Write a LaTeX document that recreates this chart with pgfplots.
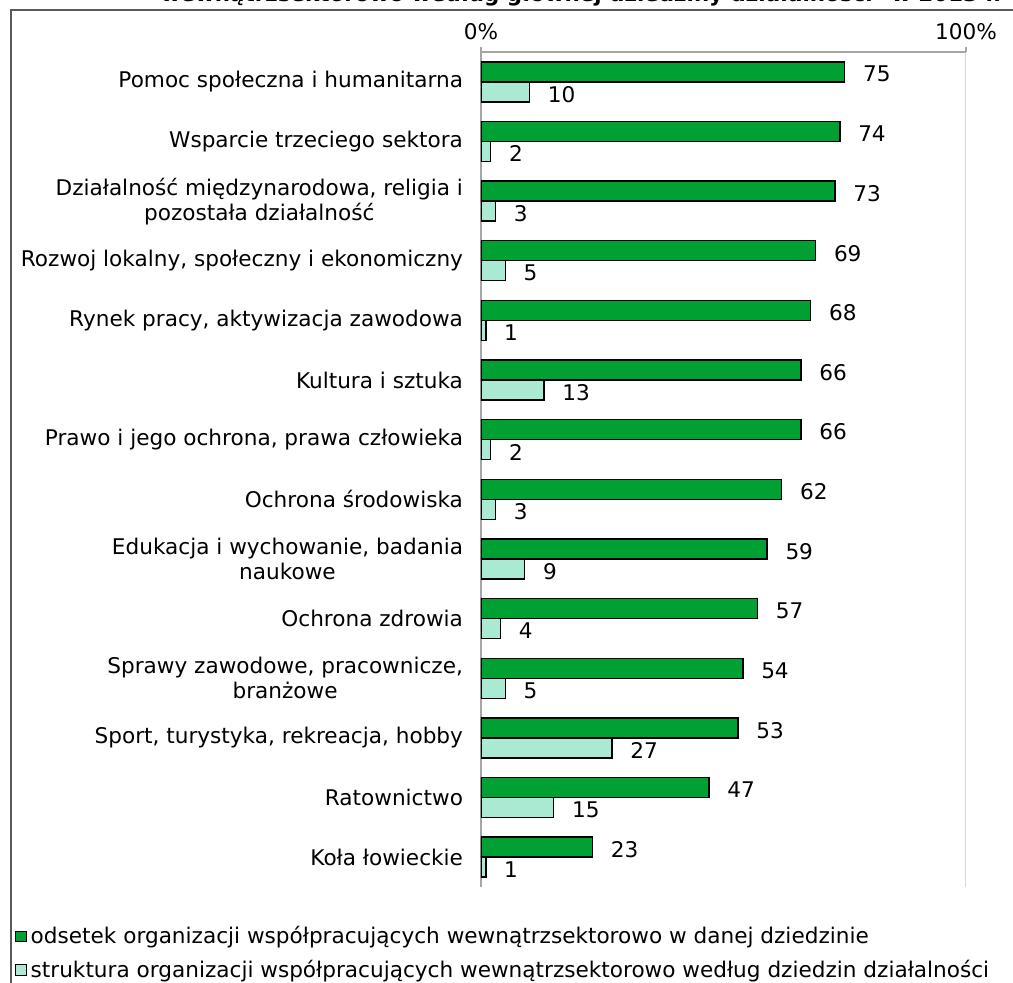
\documentclass[border=0pt]{standalone}
\usepackage{pgfplots}
\pgfplotsset{compat=1.18}
\usepackage{pgfplotstable}
\usepackage{fontspec}
\setmainfont{DejaVu Sans}

\definecolor{ciemny}{HTML}{00A033}
\definecolor{jasny}{HTML}{AAE9D2}
\definecolor{ramka}{HTML}{595959}
\definecolor{osie}{HTML}{A6A6A6}
\definecolor{siatka}{HTML}{D9D9D9}

% y: 13 = top category, 0 = bottom
\pgfplotstableread{
y  odsetek struktura
13 75 10
12 74 2
11 73 3
10 69 5
9  68 1
8  66 13
7  66 2
6  62 3
5  59 9
4  57 4
3  54 5
2  53 27
1  47 15
0  23 1
}\dane

\begin{document}
\begin{tikzpicture}
    \useasboundingbox (-240.5pt,26pt) rectangle (266pt,-465pt);
    \clip (-240.5pt,26pt) rectangle (266pt,-465pt);
    \draw[ramka, line width=1pt] (-235pt,21pt) rectangle (300pt,-500pt);
    % title is cut off at the top edge, as in the original
    \node[anchor=base, font=\bfseries\fontsize{10.7}{12}\selectfont] at (50pt,25.2pt)
        {wewnątrzsektorowo według głównej dziedziny działalności* w 2013 r.};
    \begin{axis}[
        at={(0pt,0pt)}, anchor=north west,
        scale only axis,
        width=242.5pt, height=417.5pt,
        xbar, bar width=10pt,
        xmin=0, xmax=100,
        ymin=-0.5, ymax=13.5,
        axis x line*=top, axis y line*=left,
        axis line style={osie, line width=0.6pt},
        xtick={0,100}, xticklabels={0\%,100\%},
        x tick style={osie, line width=0.6pt},
        tick align=outside,
        major tick length=2.5pt,
        xmajorgrids, grid style={siatka, line width=0.5pt},
        ytick={0,...,13},
        ytick style={draw=none},
        yticklabels={
            Koła łowieckie,
            Ratownictwo,
            {Sport, turystyka, rekreacja, hobby},
            {Sprawy zawodowe, pracownicze,\\branżowe},
            Ochrona zdrowia,
            {Edukacja i wychowanie, badania\\naukowe},
            Ochrona środowiska,
            {Prawo i jego ochrona, prawa człowieka},
            Kultura i sztuka,
            {Rynek pracy, aktywizacja zawodowa},
            {Rozwoj lokalny, społeczny i ekonomiczny},
            {Działalność międzynarodowa, religia i\\pozostała działalność},
            Wsparcie trzeciego sektora,
            Pomoc społeczna i humanitarna,
        },
        tick label style={font=\fontsize{10.8}{12.5}\selectfont},
        yticklabel style={align=center, xshift=-3pt},
        /pgf/number format/assume math mode=true,
        nodes near coords,
        every node near coord/.append style={black, xshift=5.5pt, yshift=-1.2pt,
            font=\fontsize{10.8}{12}\selectfont},
        legend style={at={(-0.961,-0.042)}, anchor=north west,
            draw=none, fill=none,
            font=\fontsize{10.8}{12}\selectfont,
            row sep=2.5pt, inner sep=0pt},
        legend cell align=left,
        legend image code/.code={
            \draw[#1, line width=0.5pt] (0.6pt,-2.6pt) rectangle (5.8pt,2.6pt);
        },
    ]
    \addplot[fill=ciemny, draw=black, line width=0.7pt, bar shift=5pt]
        table[x=odsetek, y=y] {\dane};
    \addlegendentry{odsetek organizacji współpracujących wewnątrzsektorowo w danej dziedzinie}
    \addplot[fill=jasny, draw=black, line width=0.7pt, bar shift=-5pt]
        table[x=struktura, y=y] {\dane};
    \addlegendentry{struktura organizacji współpracujących wewnątrzsektorowo według dziedzin działalności}
    \end{axis}
\end{tikzpicture}
\end{document}
